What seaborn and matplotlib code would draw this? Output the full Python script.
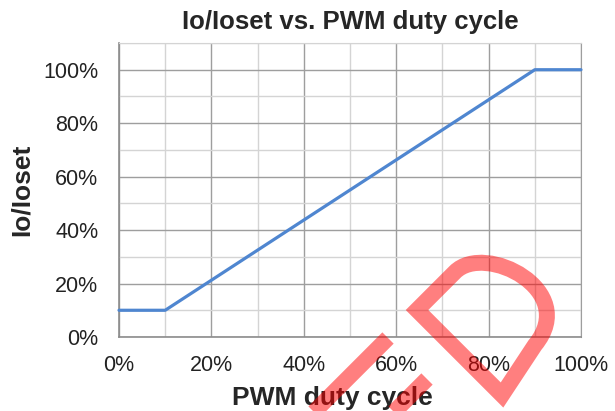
import matplotlib
matplotlib.use("Agg")
import matplotlib.pyplot as plt
import seaborn as sns
import pandas as pd
from matplotlib.ticker import MultipleLocator, PercentFormatter
from matplotlib.path import Path
from matplotlib.patches import PathPatch
from matplotlib.transforms import Affine2D

# data
duty_cycle = [0, 10, 90, 100]        # PWM duty cycle, %
io_ratio = [10, 10, 100, 100]        # Io/Ioset, %

TITLE = "Io/Ioset vs. PWM duty cycle"
XLABEL = "PWM duty cycle"
YLABEL = "Io/Ioset"

LINE_COLOR = "#4F86D0"
MAJOR_GRID = "#9E9E9E"
MINOR_GRID = "#D4D4D4"

sns.set_style("white")
plt.rcParams["font.family"] = ["Liberation Sans", "DejaVu Sans"]

W, H = 615, 411
fig = plt.figure(figsize=(W / 100, H / 100), dpi=100)
ax = fig.add_axes([119 / W, 1 - 337 / H, (581 - 119) / W, (337 - 43) / H])

df = pd.DataFrame({"duty": duty_cycle, "ratio": io_ratio})
sns.lineplot(data=df, x="duty", y="ratio", ax=ax, color=LINE_COLOR,
             linewidth=2.3, zorder=5, clip_on=False)

ax.set_xlim(0, 100)
ax.set_ylim(0, 110)
for axis in (ax.xaxis, ax.yaxis):
    axis.set_major_locator(MultipleLocator(20))
    axis.set_minor_locator(MultipleLocator(10))
    axis.set_major_formatter(PercentFormatter(xmax=100, decimals=0))

ax.grid(which="minor", color=MINOR_GRID, linewidth=1.0, zorder=0)
ax.grid(which="major", color=MAJOR_GRID, linewidth=1.0, zorder=1)
ax.set_axisbelow(True)

ax.spines["top"].set_color(MINOR_GRID)
ax.spines["right"].set_color(MAJOR_GRID)
for side in ("left", "bottom"):
    ax.spines[side].set_color("#8C8C8C")
    ax.spines[side].set_linewidth(1.2)

ax.tick_params(which="both", length=2, color=MAJOR_GRID)
ax.tick_params(axis="x", which="major", labelsize=15.5, pad=11, labelcolor="#222222")
ax.tick_params(axis="y", which="major", labelsize=15.5, pad=13, labelcolor="#222222")

ax.set_title(TITLE, fontsize=18.5, fontweight="bold", pad=10)
ax.set_xlabel(XLABEL, fontsize=19, fontweight="bold")
ax.set_ylabel(YLABEL, fontsize=19, fontweight="bold", labelpad=7)
ax.xaxis.set_label_coords(0.461, -0.165)

# red watermark overlay (image pixel coords, y down)
px = Affine2D().scale(1 / W, -1 / H).translate(0, 1) + fig.transFigure
wm = dict(facecolor="none", edgecolor=(1, 0, 0, 0.5), linewidth=11.5,
          transform=px, zorder=20, clip_on=False)

d_path = Path(
    [(502, 395), (417, 310), (455, 272),
     (485, 242), (580, 290), (535, 345),
     (502, 395), (502, 395)],
    [Path.MOVETO, Path.LINETO, Path.LINETO,
     Path.CURVE4, Path.CURVE4, Path.CURVE4,
     Path.LINETO, Path.CLOSEPOLY])
fig.add_artist(PathPatch(d_path, joinstyle="miter", capstyle="butt", **wm))

for x0, y0 in [(388, 338), (427, 379)]:
    stroke = Path([(x0, y0), (x0 - 90, y0 + 90)])
    fig.add_artist(PathPatch(stroke, capstyle="butt", **wm))

fig.savefig("out.png", dpi=100)
